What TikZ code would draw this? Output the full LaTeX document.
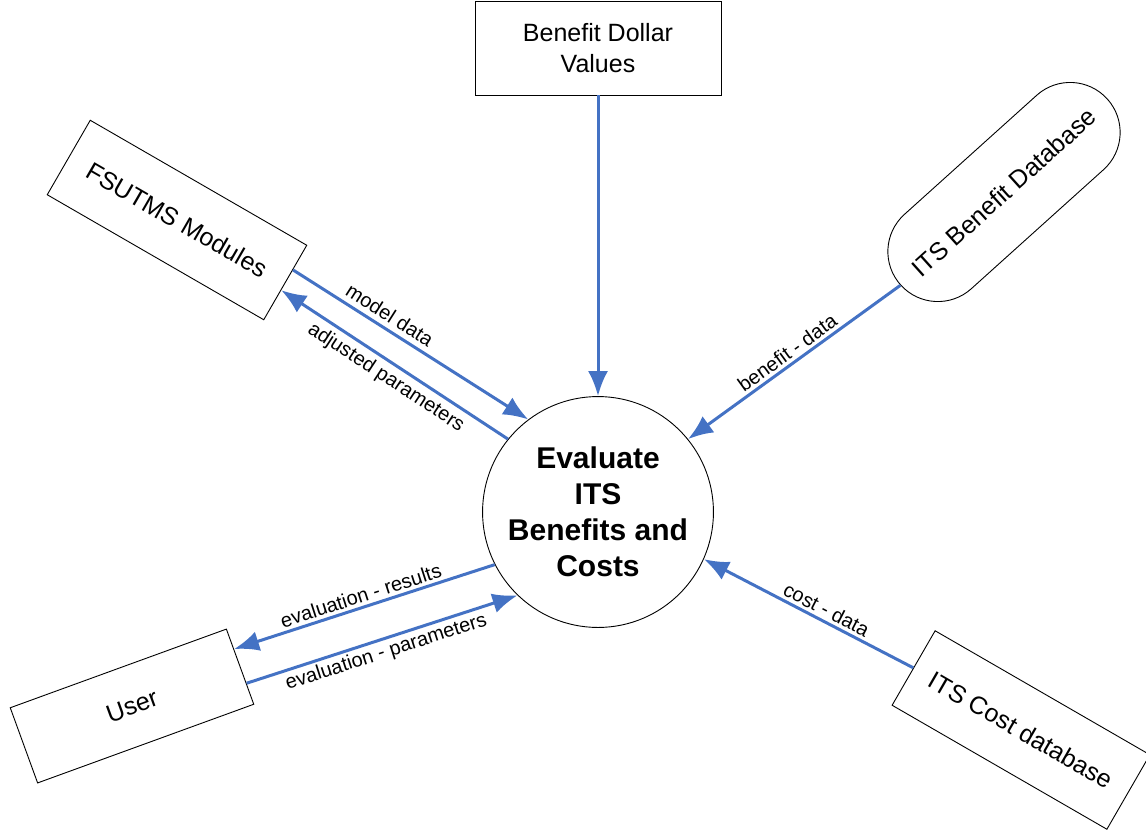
\documentclass[tikz,border=0pt]{standalone}
\usepackage{fontspec}
\setmainfont{Liberation Sans}
\usetikzlibrary{arrows.meta,calc}
\definecolor{flowblue}{RGB}{68,114,196}

\begin{document}
\begin{tikzpicture}[x=1pt,y=-1pt,
    box/.style={draw, line width=0.9pt, font=\fontsize{25}{31}\selectfont, align=center, inner sep=2pt},
    flow/.style={-{Latex[length=25pt,width=20pt]}, line width=3pt, flowblue},
    lbl/.style={font=\fontsize{20}{22}\selectfont, text=black, sloped, inner sep=3pt}]
    \useasboundingbox (0,0) rectangle (1146,831);
    % process in the middle
    \node[draw, line width=0.9pt, circle, minimum size=230pt, align=center,
          font=\bfseries\fontsize{30}{36}\selectfont] (ev) at (598,512) {Evaluate\\ITS\\Benefits and\\Costs};
    % sources and sinks
    \node[box, minimum width=246pt, minimum height=94pt] (bdv) at (598,48) {Benefit Dollar\\Values};
    \node[box, minimum width=250pt, minimum height=86pt, rotate=-30] (fsutms) at (177,220) {FSUTMS Modules};
    \node[box, rounded corners=50pt, minimum width=278pt, minimum height=100pt, rotate=42] (bdb) at (1004,192) {ITS Benefit Database};
    \node[box, minimum width=248pt, minimum height=86pt, rotate=-30] (cdb) at (1021,730) {ITS Cost database};
    \node[box, minimum width=230pt, minimum height=80pt, rotate=20] (user) at (132,706) {User};
    % data flows
    \draw[flow] (bdv) -- (ev);
    \draw[flow] ($(fsutms.north east)!0.33!(fsutms.south east)$) -- node[lbl, above=2pt, pos=0.38] {model data} (ev.127);
    \draw[flow] (ev.141) -- node[lbl, below=2pt] {adjusted parameters} ($(fsutms.north east)!0.6!(fsutms.south east)$);
    \draw[flow] (bdb.west) -- node[lbl, above] {benefit - data} (ev.39);
    \draw[flow] (cdb.west) -- node[lbl, above, pos=0.44] {cost - data} (ev.-24);
    \draw[flow] (ev.207) -- node[lbl, above] {evaluation - results} ($(user.north east)!0.27!(user.south east)$);
    \draw[flow] ($(user.north east)!0.72!(user.south east)$) -- node[lbl, below] {evaluation - parameters} (ev.226);
\end{tikzpicture}
\end{document}
